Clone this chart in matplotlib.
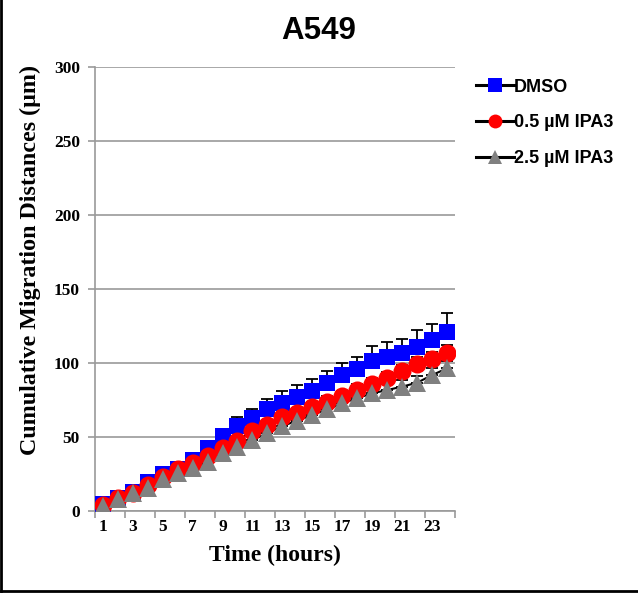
import numpy as np
import matplotlib
matplotlib.use('Agg')
import matplotlib.pyplot as plt
from matplotlib.lines import Line2D

## DATA
hours = list(range(1, 25))
dmso = [4.5, 8.4, 12.8, 19.6, 24.8, 28.2, 34.3, 42.6, 50.5, 57.2, 62.8, 68.5,
        73.0, 77.0, 81.0, 86.0, 91.7, 95.5, 101.0, 103.6, 106.3, 110.8, 115.3, 121.0]
dmso_err = [1, 1.5, 2, 2, 2.5, 3, 3, 3.5, 4, 6, 6, 7,
            8, 8, 8, 8.6, 8, 8.5, 10, 10, 10, 11, 11, 12.4]
ipa05 = [3.9, 8.4, 12.2, 17.4, 23.0, 28.0, 32.4, 37.0, 42.2, 47.3, 54.0, 58.0,
         63.0, 66.2, 69.8, 73.7, 77.5, 81.5, 85.4, 89.4, 94.0, 99.0, 102.3, 106.8]
ipa05_err = [0.5, 1, 1, 1.5, 1.5, 2, 2, 2, 2.5, 2.5, 3, 3,
             3, 3, 3.5, 3.5, 3.5, 4, 4, 4, 4.5, 4.5, 5, 5]
ipa25 = [3.2, 7.7, 11.7, 15.5, 21.2, 25.3, 28.6, 33.0, 39.2, 43.2, 47.8, 52.3,
         57.2, 60.8, 64.7, 68.5, 72.6, 76.0, 79.3, 81.5, 83.8, 86.5, 91.7, 96.2]
ipa25_err = [0.5, 1, 1, 1.5, 1.5, 2, 2, 2, 2.5, 2.5, 3, 3,
             3, 3, 3.5, 3.5, 3.5, 4, 4, 4, 4.5, 4.5, 5, 5]
labels = ['DMSO', '0.5 \u00b5M IPA3', '2.5 \u00b5M IPA3']

serif = 'Liberation Serif'
sans = 'Liberation Sans'

fig = plt.figure(figsize=(6.38, 5.93), dpi=100)
ax = fig.add_axes([0.149, 0.139, 0.564, 0.7485])

series = [(dmso, dmso_err, 's', '#0000ff', 12),
          (ipa05, ipa05_err, 'o', '#ff0000', 13),
          (ipa25, ipa25_err, '^', '#808080', 13.5)]
handles = []
for (vals, err, mk, c, ms), lab in zip(series, labels):
    ax.errorbar(hours, vals, yerr=[np.zeros(len(err)), err], fmt='none',
                ecolor='black', elinewidth=1.3, capsize=4, capthick=1.3, zorder=2)
    ax.plot(hours, vals, color='black', lw=1.5, zorder=3)
    ax.plot(hours, vals, linestyle='none', marker=mk, color=c, ms=ms,
            markeredgewidth=0, zorder=4)
    handles.append(Line2D([], [], color='black', lw=2.2, marker=mk, markerfacecolor=c,
                          markeredgewidth=0, ms=10))

ax.set_xlim(0.5, 24.5)
ax.set_ylim(0, 300)
ax.set_yticks(np.arange(0, 301, 50))
ax.yaxis.grid(True, color='#9a9a9a', lw=1.2)
ax.set_axisbelow(True)
ax.set_xticks(hours[::2])
ax.set_xticks(np.arange(0.5, 25, 2), minor=True)
ax.tick_params(axis='x', which='major', length=0, pad=6)
ax.tick_params(axis='x', which='minor', length=5, color='#9a9a9a', width=1.2)
ax.tick_params(axis='y', length=5, color='#9a9a9a', width=1.2, pad=6)
for s in ['top', 'right']:
    ax.spines[s].set_visible(False)
for s in ['left', 'bottom']:
    ax.spines[s].set_color('#9a9a9a')
    ax.spines[s].set_linewidth(1.2)
for t in ax.get_xticklabels() + ax.get_yticklabels():
    t.set_fontfamily(serif)
    t.set_fontweight('bold')
    t.set_fontsize(12.5)

ax.set_xlabel('Time (hours)', fontfamily=serif, fontweight='bold', fontsize=17, labelpad=7)
fig.text(0.047, 0.5616, 'Cumulative Migration Distances (\u00b5m)', rotation=90,
         ha='center', va='center', fontfamily=serif, fontweight='bold', fontsize=17.3)
fig.text(0.5, 0.948, 'A549', ha='center', va='center', fontfamily=sans,
         fontweight='bold', fontsize=22.5)

leg = fig.legend(handles, labels, loc='upper left', bbox_to_anchor=(0.72, 0.895),
                 frameon=False, handlelength=2.1, handletextpad=0.0,
                 labelspacing=1.05, prop={'family': sans, 'weight': 'bold', 'size': 13})

# figure frame (left and bottom visible in reference)
fig.add_artist(Line2D([0.002, 0.002], [0.004, 1.0], color='black', lw=2, transform=fig.transFigure))
fig.add_artist(Line2D([0.002, 1.0], [0.004, 0.004], color='black', lw=2, transform=fig.transFigure))

fig.savefig('out.png', dpi=100)
